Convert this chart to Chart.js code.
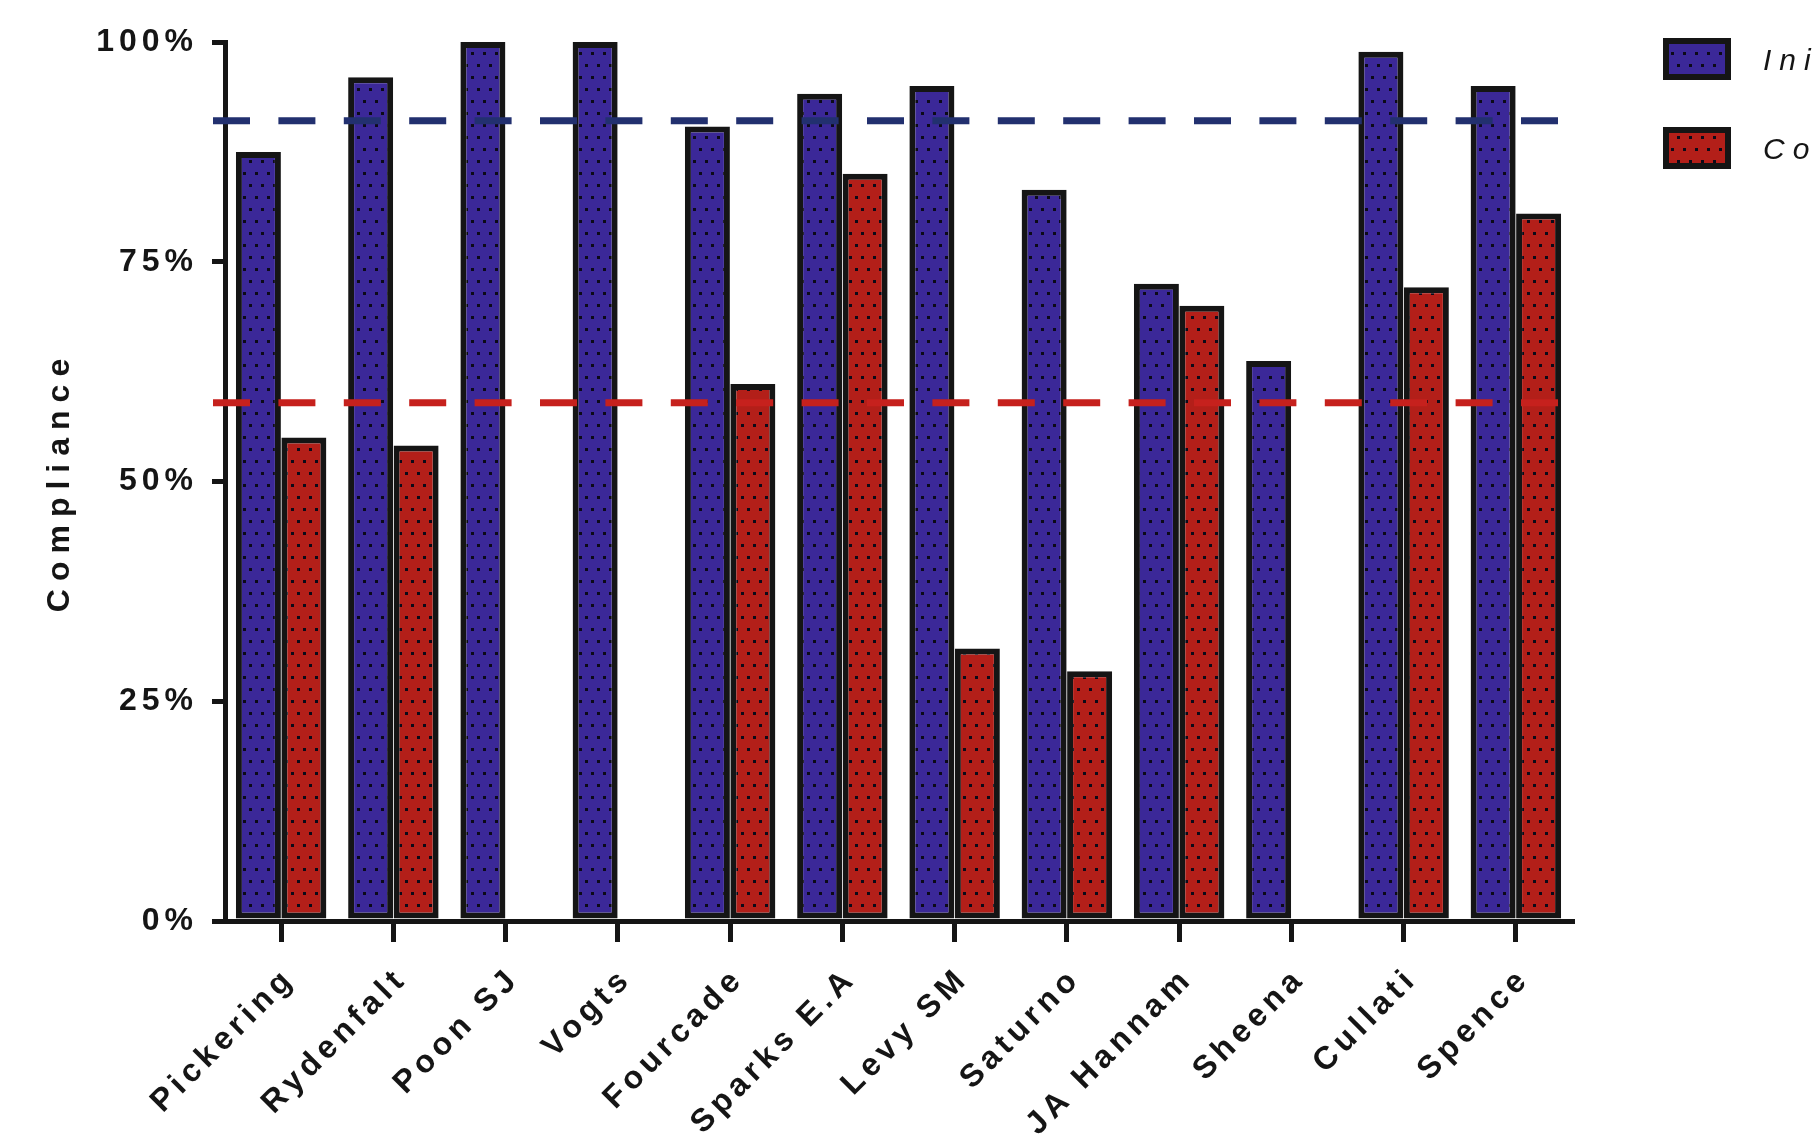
<!DOCTYPE html>
<html>
<head>
<meta charset="utf-8">
<script src="https://cdn.jsdelivr.net/npm/chart.js@4.4.1/dist/chart.umd.min.js"></script>
<style>
  html, body { margin: 0; padding: 0; background: #fff; overflow: hidden; }
  #wrap { width: 1814px; height: 1144px; position: relative; }
</style>
</head>
<body>
<div id="wrap"><canvas id="chart"></canvas></div>
<script>
// data
const categories = ['Pickering', 'Rydenfalt', 'Poon SJ', 'Vogts', 'Fourcade', 'Sparks E.A', 'Levy SM', 'Saturno', 'JA Hannam', 'Sheena', 'Cullati', 'Spence']
const initialValues = [87.5, 96.0, 100, 100, 90.4, 94.1, 95.0, 83.2, 72.5, 63.7, 98.9, 95.0]
const secondValues = [55.0, 54.1, null, null, 61.1, 85.0, 31.0, 28.4, 70.0, null, 72.1, 80.5]
const seriesLabels = ['Initial', 'Completion']
const meanValues = [91.05, 58.95]
const yTicks = [0, 25, 50, 75, 100]

const INK = '#151515'
const FONT = "'Liberation Sans', Arial, Helvetica, sans-serif"
const barColors = ['#3b2898', '#b31f19']
const meanColors = ['#22306f', '#c6211d']

// dotted fill like the original stipple
function dotted(fill) {
  const c = document.createElement('canvas')
  c.width = 12
  c.height = 24
  const g = c.getContext('2d')
  g.fillStyle = fill
  g.fillRect(0, 0, 12, 24)
  g.fillStyle = '#0c0a18'
  g.fillRect(3, 4, 3, 3)
  g.fillRect(9, 16, 3, 3)
  return g.createPattern(c, 'repeat')
}

const spacing = {
  id: 'spacing',
  beforeDraw(chart) {
    chart.ctx.letterSpacing = '5px'
    // wider tracking on the axis title
    const y = chart.scales.y
    if (!y._patchedTitle) {
      const orig = y.drawTitle
      y.drawTitle = function () {
        this.ctx.letterSpacing = '8px'
        orig.call(this)
        this.ctx.letterSpacing = '5px'
      }
      y._patchedTitle = true
    }
  }
}

const meanLines = {
  id: 'meanLines',
  afterDatasetsDraw(chart) {
    const { ctx, chartArea, scales } = chart
    ctx.save()
    ctx.lineWidth = 7
    ctx.setLineDash([37, 28.4])
    meanValues.forEach((v, i) => {
      const py = scales.y.getPixelForValue(v)
      ctx.strokeStyle = meanColors[i]
      ctx.beginPath()
      ctx.moveTo(chartArea.left - 12, py)
      ctx.lineTo(chartArea.right - 12, py)
      ctx.stroke()
    })
    ctx.restore()
  }
}

const sideLegend = {
  id: 'sideLegend',
  afterDraw(chart) {
    const ctx = chart.ctx
    const x0 = chart.chartArea.right + 91
    ctx.save()
    chart.data.datasets.forEach((ds, i) => {
      const y = 38 + i * 89
      ctx.fillStyle = INK
      ctx.fillRect(x0, y, 68, 42)
      ctx.fillStyle = ds.backgroundColor
      ctx.fillRect(x0 + 6, y + 6, 56, 30)
      ctx.fillStyle = INK
      ctx.letterSpacing = '8px'
      ctx.font = 'italic 30px ' + FONT
      ctx.textBaseline = 'middle'
      ctx.textAlign = 'left'
      ctx.fillText(ds.label, x0 + 100, y + 24)
    })
    ctx.restore()
  }
}

const ctx = document.getElementById('chart')

new Chart(ctx, {
  type: 'bar',
  data: {
    labels: categories,
    datasets: [
      {
        label: seriesLabels[0],
        data: initialValues,
        backgroundColor: dotted(barColors[0]),
        borderColor: INK,
        borderWidth: 6,
        borderSkipped: false
      },
      {
        label: seriesLabels[1],
        data: secondValues,
        backgroundColor: dotted(barColors[1]),
        borderColor: INK,
        borderWidth: 6,
        borderSkipped: false
      }
    ]
  },
  options: {
    responsive: true,
    maintainAspectRatio: false,
    animation: false,
    devicePixelRatio: 1,
    layout: { padding: { top: 42, right: 242, bottom: 0, left: 0 } },
    datasets: {
      bar: { categoryPercentage: 0.81, barPercentage: 0.99 }
    },
    plugins: {
      legend: { display: false },
      tooltip: { enabled: false }
    },
    scales: {
      x: {
        offset: true,
        grid: {
          offset: false,
          drawOnChartArea: false,
          tickLength: 21,
          lineWidth: 5,
          color: INK
        },
        border: { width: 5, color: INK },
        ticks: {
          color: INK,
          font: { family: FONT, size: 32, weight: 'bold' },
          minRotation: 45,
          maxRotation: 45,
          padding: 18,
          labelOffset: 9,
          autoSkip: false
        },
        afterFit(scale) { scale.height = 223 }
      },
      y: {
        min: 0,
        max: 100,
        afterBuildTicks(scale) { scale.ticks = yTicks.map(v => ({ value: v })) },
        grid: {
          drawOnChartArea: false,
          tickLength: 13,
          lineWidth: 5,
          color: INK
        },
        border: { width: 5, color: INK },
        ticks: {
          color: INK,
          font: { family: FONT, size: 32, weight: 'bold' },
          padding: 14,
          callback: v => v + '%'
        },
        title: {
          display: true,
          text: 'Compliance',
          color: INK,
          font: { family: FONT, size: 32, weight: 'bold' },
          padding: { top: 41, bottom: 0 }
        },
        afterFit(scale) { scale.width = 225 }
      }
    }
  },
  plugins: [spacing, meanLines, sideLegend]
})
</script>
</body>
</html>
